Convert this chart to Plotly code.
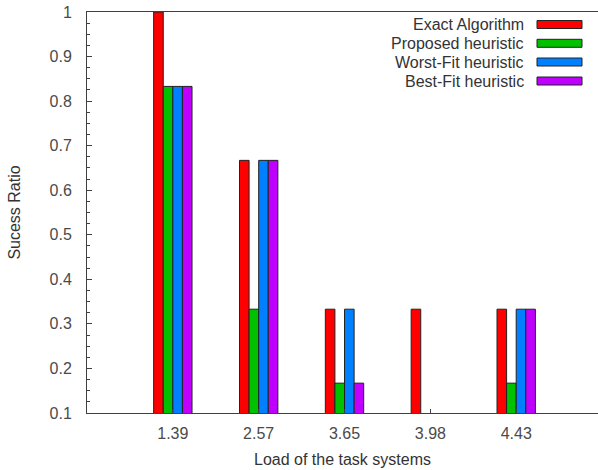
import plotly.graph_objects as go

categories = ["1.39", "2.57", "3.65", "3.98", "4.43"]
series_names = ["Exact Algorithm", "Proposed heuristic", "Worst-Fit heuristic", "Best-Fit heuristic"]
exact = [1.0, 0.667, 0.333, 0.333, 0.333]
proposed = [0.833, 0.333, 0.167, 0.0, 0.167]
worst_fit = [0.833, 0.667, 0.333, 0.0, 0.333]
best_fit = [0.833, 0.667, 0.167, 0.0, 0.333]
y_ticks = [0.1, 0.2, 0.3, 0.4, 0.5, 0.6, 0.7, 0.8, 0.9, 1.0]
colors = ["#ff0000", "#00c000", "#0080ff", "#c000ff"]

W, H = 598, 470
ML, MR, MT, MB = 87, 0, 12, 57
FONT = "Liberation Sans, Arial, sans-serif"
FS = 16
AXC = "#404040"
TXT = "#4a4a4a"

fig = go.Figure()
for name, vals, col in zip(series_names, [exact, proposed, worst_fit, best_fit], colors):
    fig.add_trace(go.Bar(
        x=categories, y=vals, name=name,
        marker=dict(color=col, line=dict(color="#222222", width=1)),
        showlegend=False,
    ))

# legend: right-aligned text with swatch on the right (gnuplot style)
pw = W - ML - MR
ph = H - MT - MB
row_px = [24.5, 43.3, 62.0, 81.0]
for name, col, ry in zip(series_names, colors, row_px):
    yc = (H - MB - ry) / ph
    fig.add_annotation(
        xref="paper", yref="paper", x=(526 - ML) / pw, y=yc,
        text=name, showarrow=False, xanchor="right", yanchor="middle",
        font=dict(family=FONT, size=FS, color="#333333"),
    )
    fig.add_shape(
        type="rect", xref="paper", yref="paper",
        x0=(537 - ML) / pw, x1=(582 - ML) / pw,
        y0=yc - 4 / ph, y1=yc + 4 / ph,
        fillcolor=col, line=dict(color="#222222", width=1),
    )

fig.update_layout(
    width=W, height=H,
    margin=dict(l=ML, r=MR, t=MT, b=MB, autoexpand=False),
    paper_bgcolor="white", plot_bgcolor="white",
    barmode="group", bargap=0.553, bargroupgap=0,
    font=dict(family=FONT, size=FS, color=TXT),
)
fig.update_xaxes(
    type="category", range=[-1, 4.953],
    showline=True, linecolor=AXC, linewidth=1, mirror=True,
    ticks="inside", ticklen=4, tickcolor=AXC,
    showgrid=False, zeroline=False,
    tickfont=dict(family=FONT, size=FS, color=TXT),
    ticklabelstandoff=6,
    title=dict(text="Load of the task systems", font=dict(family=FONT, size=FS, color="#333333"), standoff=12),
)
fig.update_yaxes(
    range=[0.1, 1.0], tickvals=y_ticks, ticktext=[f"{v:g}" for v in y_ticks],
    showline=True, linecolor=AXC, linewidth=1, mirror=False,
    ticks="inside", ticklen=5, tickcolor=AXC,
    minor=dict(dtick=0.025, ticks="inside", ticklen=3, tickcolor=AXC, showgrid=False),
    showgrid=False, zeroline=False,
    tickfont=dict(family=FONT, size=FS, color=TXT),
    ticklabelstandoff=11,
    title=dict(text="Sucess Ratio", font=dict(family=FONT, size=FS, color="#333333"), standoff=24),
)

fig.write_html(
    "out.html",
    config={"displayModeBar": False},
    post_script="document.body.style.margin='0';document.body.style.overflow='hidden';",
)
